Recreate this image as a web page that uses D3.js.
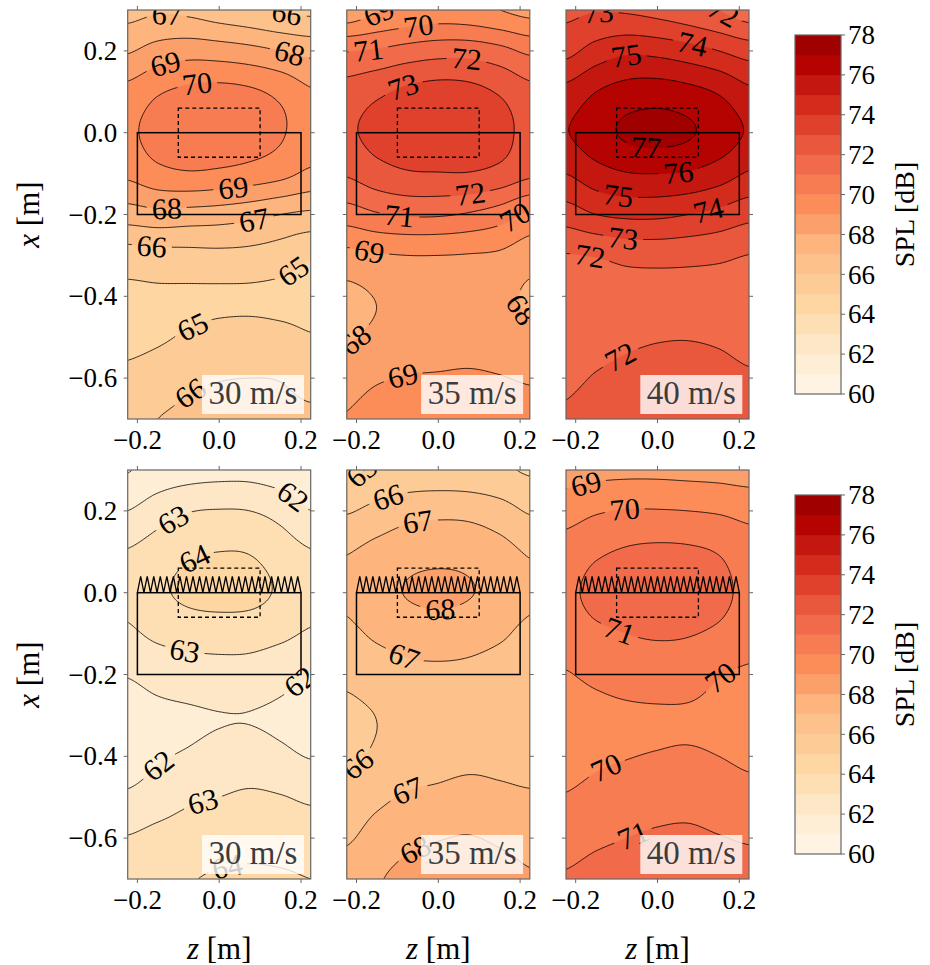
<!DOCTYPE html>
<html><head><meta charset="utf-8">
<script src="https://cdn.jsdelivr.net/npm/d3@7"></script>
<style>body{margin:0;background:#fff} text{font-family:"Liberation Serif","DejaVu Serif",serif}</style>
</head><body>
<svg id="c" width="930" height="965"></svg>
<script>
// ---------------- data ----------------
const zGrid = [-0.225, -0.15, -0.075, 0, 0.075, 0.15, 0.225];
const xGrid = [0.3, 0.2, 0.1, 0, -0.1, -0.2, -0.3, -0.4, -0.5, -0.6, -0.7];
const speeds = ["30 m/s", "35 m/s", "40 m/s"];
const levels = d3.range(60, 79);            // contour levels, dB
const cbTicks = [60, 62, 64, 66, 68, 70, 72, 74, 76, 78];
const zTicks = [-0.2, 0.0, 0.2];
const xTicks = [0.2, 0.0, -0.2, -0.4, -0.6];

// SPL fields (rows = xGrid, cols = zGrid)
const splBase30 = [
  [66.7, 66.9, 66.8, 66.5, 66.25, 65.95, 65.8],
  [67.9, 68.4, 68.6, 68.5, 68.3, 68.0, 67.7],
  [69.3, 69.9, 70.2, 70.3, 70.15, 69.75, 69.1],
  [69.8, 70.4, 70.65, 70.7, 70.5, 70.1, 69.5],
  [69.2, 69.7, 69.9, 69.8, 69.6, 69.3, 68.8],
  [67.5, 67.7, 67.6, 67.5, 67.3, 67.0, 66.8],
  [65.55, 65.65, 65.7, 65.75, 65.7, 65.5, 65.1],
  [64.8, 64.85, 64.85, 64.85, 64.85, 64.8, 64.75],
  [64.8, 64.9, 65.1, 65.3, 65.35, 65.25, 65.05],
  [65.2, 65.45, 65.8, 65.95, 66.0, 65.95, 65.6],
  [65.7, 66.0, 66.2, 66.4, 66.4, 66.3, 66.2]
];
const splBase35 = [
  [68.3, 68.9, 69.2, 69.4, 69.3, 69.0, 68.7],
  [70.95, 71.1, 71.4, 71.6, 71.6, 71.3, 70.8],
  [72.4, 72.8, 73.2, 73.4, 73.3, 72.9, 72.3],
  [72.85, 73.3, 73.6, 73.75, 73.65, 73.3, 72.7],
  [72.1, 72.6, 72.9, 72.95, 72.95, 72.7, 72.2],
  [70.5, 70.9, 71.1, 71.1, 70.9, 70.5, 69.8],
  [68.7, 68.9, 69.0, 69.0, 68.95, 68.85, 68.45],
  [67.75, 68.05, 68.4, 68.55, 68.5, 68.3, 67.85],
  [67.9, 68.2, 68.4, 68.5, 68.55, 68.45, 68.3],
  [68.6, 68.9, 69.05, 69.1, 69.15, 69.05, 68.9],
  [69.05, 69.4, 69.6, 69.7, 69.7, 69.6, 69.4]
];
const splBase40 = [
  [72.8, 72.95, 72.9, 72.7, 72.4, 72.0, 71.5],
  [73.7, 74.4, 74.8, 74.7, 74.4, 74.0, 73.55],
  [75.3, 76.0, 76.4, 76.5, 76.3, 75.9, 75.2],
  [75.95, 76.6, 77.15, 77.3, 77.1, 76.6, 75.9],
  [75.0, 75.6, 75.95, 76.0, 75.9, 75.5, 74.9],
  [73.5, 74.0, 74.2, 74.2, 74.0, 73.7, 73.3],
  [71.95, 72.05, 72.3, 72.35, 72.3, 72.2, 71.98],
  [71.6, 71.6, 71.6, 71.6, 71.6, 71.55, 71.5],
  [71.65, 71.75, 71.87, 71.95, 71.97, 71.9, 71.75],
  [71.85, 72.05, 72.2, 72.3, 72.3, 72.25, 72.1],
  [72.1, 72.35, 72.5, 72.6, 72.6, 72.55, 72.45]
];
const splSerr30 = [
  [60.95, 61.4, 61.6, 61.7, 61.7, 61.5, 61.3],
  [62.0, 62.55, 62.95, 63.05, 63.0, 62.65, 62.0],
  [63.05, 63.45, 63.85, 64.0, 63.95, 63.5, 63.05],
  [63.2, 63.8, 64.2, 64.35, 64.3, 63.85, 63.3],
  [62.85, 63.2, 63.4, 63.45, 63.4, 63.2, 62.9],
  [62.05, 62.35, 62.5, 62.6, 62.6, 62.35, 62.0],
  [61.6, 61.8, 61.9, 61.98, 61.98, 61.85, 61.6],
  [61.55, 61.9, 62.1, 62.3, 62.4, 62.2, 61.95],
  [62.15, 62.5, 62.85, 63.0, 63.15, 63.05, 62.85],
  [63.05, 63.3, 63.45, 63.55, 63.65, 63.6, 63.5],
  [63.5, 63.8, 63.95, 64.1, 64.15, 64.1, 64.0]
];
const splSerr35 = [
  [64.8, 65.15, 65.3, 65.35, 65.3, 65.15, 64.9],
  [65.9, 66.3, 66.65, 66.75, 66.7, 66.4, 65.9],
  [66.95, 67.3, 67.6, 67.7, 67.65, 67.35, 66.9],
  [67.15, 67.65, 68.05, 68.2, 68.05, 67.7, 67.2],
  [66.8, 67.15, 67.4, 67.5, 67.4, 67.15, 66.75],
  [66.2, 66.5, 66.75, 66.8, 66.75, 66.55, 66.3],
  [65.8, 66.02, 66.35, 66.45, 66.45, 66.35, 66.2],
  [65.8, 66.15, 66.5, 66.7, 66.8, 66.75, 66.65],
  [66.5, 66.8, 67.1, 67.2, 67.3, 67.2, 67.1],
  [66.9, 67.35, 67.75, 67.95, 68.05, 67.85, 67.6],
  [67.4, 67.9, 68.3, 68.5, 68.55, 68.4, 68.1]
];
const splSerr40 = [
  [68.6, 68.75, 68.8, 68.8, 68.75, 68.7, 68.6],
  [69.6, 69.9, 70.05, 70.05, 70.0, 69.9, 69.7],
  [70.4, 70.85, 71.1, 71.2, 71.15, 70.95, 70.5],
  [70.75, 71.3, 71.45, 71.55, 71.45, 71.2, 70.8],
  [70.4, 70.8, 71.0, 71.1, 71.05, 70.85, 70.5],
  [69.95, 70.2, 70.4, 70.45, 70.4, 70.05, 69.85],
  [69.6, 69.75, 69.85, 69.9, 69.9, 69.8, 69.65],
  [69.65, 69.85, 69.97, 70.05, 70.1, 70.0, 69.85],
  [70.05, 70.3, 70.5, 70.6, 70.65, 70.5, 70.3],
  [70.5, 70.8, 71.0, 71.15, 71.2, 71.05, 70.9],
  [71.1, 71.4, 71.6, 71.7, 71.75, 71.65, 71.45]
];

// contour label anchors [z, x, level]
const labelsBase30 = [[-0.128,0.272,67],[0.165,0.288,66],[0.174,0.203,68],[-0.132,0.170,69],[-0.055,0.130,70],
  [0.035,-0.139,69],[-0.128,-0.188,68],[0.088,-0.229,67],[-0.165,-0.282,66],[0.174,-0.327,65],[-0.063,-0.478,65],[-0.071,-0.636,66]];
const labelsBase35 = [[-0.143,0.288,69],[-0.049,0.264,70],[-0.171,0.203,71],[0.069,0.178,72],[-0.086,0.113,73],
  [0.077,-0.139,72],[-0.094,-0.192,71],[0.19,-0.209,70],[-0.167,-0.282,69],[-0.216,-0.49,68],[0.214,-0.425,68],[-0.086,-0.596,69]];
const labelsBase40 = [[-0.141,0.268,73],[0.161,0.293,72],[0.087,0.223,74],[-0.076,0.187,75],[-0.027,-0.025,77],
  [0.051,-0.095,76],[-0.096,-0.156,75],[0.124,-0.188,74],[-0.084,-0.258,73],[-0.165,-0.302,72],[-0.092,-0.547,72]];
const labelsSerr30 = [[0.174,0.227,62],[-0.112,0.178,63],[-0.063,0.089,64],[-0.083,-0.135,63],[0.186,-0.205,62],
  [-0.144,-0.429,62],[-0.038,-0.518,63],[0.019,-0.665,64]];
const labelsSerr35 = [[-0.183,0.289,65],[-0.122,0.231,66],[-0.049,0.17,67],[0.004,-0.025,68],[-0.081,-0.148,67],
  [-0.214,-0.4,66],[-0.077,-0.478,67],[-0.057,-0.628,68]];
const labelsSerr40 = [[-0.174,0.264,69],[-0.08,0.203,70],[-0.092,-0.09,71],[0.152,-0.205,70],[-0.129,-0.42,70],[-0.072,-0.567,71]];

// geometry of the model outlines (m)
const bodyRect = {z0:-0.2, z1:0.2, x0:-0.2, x1:0.0};
const dashRect = {z0:-0.1, z1:0.1, x0:-0.06, x1:0.06};
const serrations = {count:25, height:0.04};

// ---------------- layout ----------------
const panels = [
  {grid:splBase30, labels:labelsBase30, row:0, col:0},
  {grid:splBase35, labels:labelsBase35, row:0, col:1},
  {grid:splBase40, labels:labelsBase40, row:0, col:2},
  {grid:splSerr30, labels:labelsSerr30, row:1, col:0},
  {grid:splSerr35, labels:labelsSerr35, row:1, col:1},
  {grid:splSerr40, labels:labelsSerr40, row:1, col:2}
];
const W = 183, H = 409;
const panelLeft = [127.7, 346.8, 566];
const panelTop = [10, 470];
const zs = d3.scaleLinear().domain([-0.2237, 0.2237]).range([0, W]);
const xs = d3.scaleLinear().domain([0.3, -0.7]).range([0, H]);

const brewer = ["#fff7ec","#fee8c8","#fdd49e","#fdbb84","#fc8d59","#ef6548","#d7301f","#b30000","#7f0000"];
const cmap = d3.scaleLinear().domain(d3.range(9).map(i => i/8)).range(brewer).interpolate(d3.interpolateRgb);
const vmin = levels[0], vmax = levels[levels.length-1];
const bandColor = t => cmap((t + 0.5 - vmin) / (vmax + 1 - vmin));

function cr(p0,p1,p2,p3,t){ return p1 + 0.5*t*(p2-p0 + t*(2*p0-5*p1+4*p2-p3 + t*(3*(p1-p2)+p3-p0))); }
function sample(grid, z, x){
  const nc = zGrid.length, nr = xGrid.length;
  let u = (z - zGrid[0])/(zGrid[1]-zGrid[0]);
  let v = (xGrid[0]-x)/(xGrid[0]-xGrid[1]);
  u = Math.max(0, Math.min(nc-1, u)); v = Math.max(0, Math.min(nr-1, v));
  const i = Math.min(Math.floor(u), nc-2), j = Math.min(Math.floor(v), nr-2);
  const tu = u - i, tv = v - j;
  const g = (r,c) => grid[Math.max(0,Math.min(nr-1,r))][Math.max(0,Math.min(nc-1,c))];
  const rows = [];
  for (let r = j-1; r <= j+2; r++) rows.push(cr(g(r,i-1), g(r,i), g(r,i+1), g(r,i+2), tu));
  return cr(rows[0], rows[1], rows[2], rows[3], tv);
}

const svg = d3.select("#c");
const defs = svg.append("defs");
const fmt = v => (v < 0 ? "\u2212" : "") + Math.abs(v).toFixed(1);
const spineColor = "#666";

panels.forEach((p, k) => {
  const L = panelLeft[p.col], T = panelTop[p.row];
  const g = svg.append("g").attr("transform", `translate(${L},${T})`);
  defs.append("clipPath").attr("id", "clip"+k).append("rect").attr("width", W).attr("height", H);

  const s = 1.5, m = 3;
  const nx = Math.ceil(W/s) + 2*m, ny = Math.ceil(H/s) + 2*m;
  const vals = new Array(nx*ny);
  for (let j = 0; j < ny; j++) for (let i = 0; i < nx; i++) {
    vals[j*nx+i] = sample(p.grid, zs.invert((i-m+0.5)*s), xs.invert((j-m+0.5)*s));
  }
  const conts = d3.contours().size([nx, ny]).thresholds(levels)(vals);
  const path = d3.geoPath(d3.geoTransform({point(x, y){ this.stream.point((x-m)*s, (y-m)*s); }}));

  const body = g.append("g").attr("clip-path", `url(#clip${k})`);
  body.append("g").selectAll("path").data(conts).join("path")
    .attr("d", path).attr("fill", d => bandColor(d.value))
    .attr("stroke", d => bandColor(d.value)).attr("stroke-width", 0.6);

  // labels
  const F = (px, py) => sample(p.grid, zs.invert(px), xs.invert(py));
  const fs = 30;
  const labs = p.labels.map(([z, x, lev]) => {
    let px = zs(z), py = xs(x);
    const x0 = px, y0 = py;
    for (let it = 0; it < 30; it++) {
      const f = F(px, py) - lev;
      const gx = (F(px+1,py) - F(px-1,py))/2, gy = (F(px,py+1) - F(px,py-1))/2;
      const g2 = gx*gx + gy*gy; if (g2 < 1e-10) break;
      let dx = -f*gx/g2, dy = -f*gy/g2;
      const dl = Math.hypot(dx, dy); if (dl > 2) { dx *= 2/dl; dy *= 2/dl; }
      px += dx; py += dy;
    }
    if (Math.hypot(px-x0, py-y0) > 22) { px = x0; py = y0; }
    const gx = (F(px+1,py) - F(px-1,py))/2, gy = (F(px,py+1) - F(px,py-1))/2;
    let ang = Math.atan2(gx, -gy) * 180/Math.PI;
    if (ang > 95) ang -= 180; if (ang <= -85) ang += 180;
    return {px, py, ang, text: String(lev)};
  });

  const mask = defs.append("mask").attr("id", "mask"+k).attr("maskUnits", "userSpaceOnUse")
    .attr("x", -20).attr("y", -20).attr("width", W+40).attr("height", H+40);
  mask.append("rect").attr("x", -20).attr("y", -20).attr("width", W+40).attr("height", H+40).attr("fill", "#fff");
  mask.selectAll("rect.h").data(labs).join("rect").attr("class", "h")
    .attr("x", -20).attr("y", -10).attr("width", 40).attr("height", 20).attr("fill", "#000")
    .attr("transform", d => `translate(${d.px},${d.py}) rotate(${d.ang})`);

  body.append("g").attr("mask", `url(#mask${k})`).selectAll("path").data(conts).join("path")
    .attr("d", path).attr("fill", "none").attr("stroke", "#000").attr("stroke-width", 0.8);

  body.append("g").selectAll("text").data(labs).join("text")
    .attr("transform", d => `translate(${d.px},${d.py}) rotate(${d.ang})`)
    .attr("text-anchor", "middle").attr("dy", "0.34em").attr("font-size", fs).attr("fill", "#000")
    .text(d => d.text);

  // model outlines
  g.append("rect").attr("x", zs(bodyRect.z0)).attr("y", xs(bodyRect.x1))
    .attr("width", zs(bodyRect.z1)-zs(bodyRect.z0)).attr("height", xs(bodyRect.x0)-xs(bodyRect.x1))
    .attr("fill", "none").attr("stroke", "#000").attr("stroke-width", 1.5);
  g.append("rect").attr("x", zs(dashRect.z0)).attr("y", xs(dashRect.x1))
    .attr("width", zs(dashRect.z1)-zs(dashRect.z0)).attr("height", xs(dashRect.x0)-xs(dashRect.x1))
    .attr("fill", "none").attr("stroke", "#000").attr("stroke-width", 1.3).attr("stroke-dasharray", "4,3");
  if (p.row === 1) {
    const n = serrations.count, w = (bodyRect.z1 - bodyRect.z0)/n;
    const pts = [[bodyRect.z0, bodyRect.x1]];
    for (let i = 0; i < n; i++) {
      pts.push([bodyRect.z0 + (i+0.5)*w, bodyRect.x1 + serrations.height]);
      pts.push([bodyRect.z0 + (i+1)*w, bodyRect.x1]);
    }
    g.append("path").attr("d", d3.line().x(d => zs(d[0])).y(d => xs(d[1]))(pts))
      .attr("fill", "none").attr("stroke", "#000").attr("stroke-width", 1.3).attr("stroke-linejoin", "miter");
  }

  // speed box
  const bx = W - 108.7, by = H - 44;
  g.append("rect").attr("x", bx).attr("y", by).attr("width", 102).attr("height", 39)
    .attr("fill", "#fff").attr("fill-opacity", 0.8);
  g.append("text").attr("x", bx + 51).attr("y", by + 29).attr("text-anchor", "middle")
    .attr("font-size", 33).attr("fill", "#3c3c3c").text(speeds[p.col]);

  // spines and ticks
  g.append("rect").attr("width", W).attr("height", H).attr("fill", "none")
    .attr("stroke", spineColor).attr("stroke-width", 1.2);
  const tk = g.append("g").attr("stroke", spineColor).attr("stroke-width", 1);
  zTicks.forEach(z => {
    tk.append("line").attr("x1", zs(z)).attr("x2", zs(z)).attr("y1", H).attr("y2", H+4);
    tk.append("line").attr("x1", zs(z)).attr("x2", zs(z)).attr("y1", 0).attr("y2", -4);
  });
  xTicks.forEach(x => {
    tk.append("line").attr("x1", 0).attr("x2", -4).attr("y1", xs(x)).attr("y2", xs(x));
    tk.append("line").attr("x1", W).attr("x2", W+4).attr("y1", xs(x)).attr("y2", xs(x));
  });
  zTicks.forEach(z => {
    g.append("text").attr("x", zs(z)).attr("y", H + 21).attr("dy", "0.34em").attr("text-anchor", "middle")
      .attr("font-size", 27).text(fmt(z));
  });
  if (p.col === 0) {
    xTicks.forEach(x => {
      g.append("text").attr("x", -10.5).attr("y", xs(x)).attr("dy", "0.34em").attr("text-anchor", "end")
        .attr("font-size", 27).text(fmt(x));
    });
    const yl = g.append("text").attr("transform", `translate(-99,${H/2}) rotate(-90)`)
      .attr("text-anchor", "middle").attr("dy", "0.34em").attr("font-size", 31);
    yl.append("tspan").attr("font-style", "italic").text("x");
    yl.append("tspan").text(" [m]");
  }
  if (p.row === 1) {
    const xl = g.append("text").attr("transform", `translate(${W/2},${H + 69})`)
      .attr("text-anchor", "middle").attr("dy", "0.34em").attr("font-size", 31);
    xl.append("tspan").attr("font-style", "italic").text("z");
    xl.append("tspan").text(" [m]");
  }
});

// colorbars
[0, 1].forEach(r => {
  const cbL = 795, cbW = 46, cbT = [35, 495][r], cbH = 359;
  const cy = d3.scaleLinear().domain([vmin, vmax]).range([cbT + cbH, cbT]);
  const cb = svg.append("g");
  cb.selectAll("rect").data(levels.slice(0, -1)).join("rect")
    .attr("x", cbL).attr("width", cbW).attr("y", d => cy(d+1)).attr("height", d => cy(d) - cy(d+1) + 0.3)
    .attr("fill", d => bandColor(d));
  cb.append("rect").attr("x", cbL).attr("y", cbT).attr("width", cbW).attr("height", cbH)
    .attr("fill", "none").attr("stroke", spineColor).attr("stroke-width", 1.2);
  cbTicks.forEach(t => {
    cb.append("line").attr("x1", cbL + cbW).attr("x2", cbL + cbW + 4).attr("y1", cy(t)).attr("y2", cy(t))
      .attr("stroke", spineColor);
    cb.append("text").attr("x", cbL + cbW + 7).attr("y", cy(t)).attr("dy", "0.34em").attr("font-size", 27).text(t);
  });
  cb.append("text").attr("transform", `translate(904,${cbT + cbH/2}) rotate(-90)`)
    .attr("text-anchor", "middle").attr("dy", "0.34em").attr("font-size", 28).text("SPL [dB]");
});
</script>
</body></html>
